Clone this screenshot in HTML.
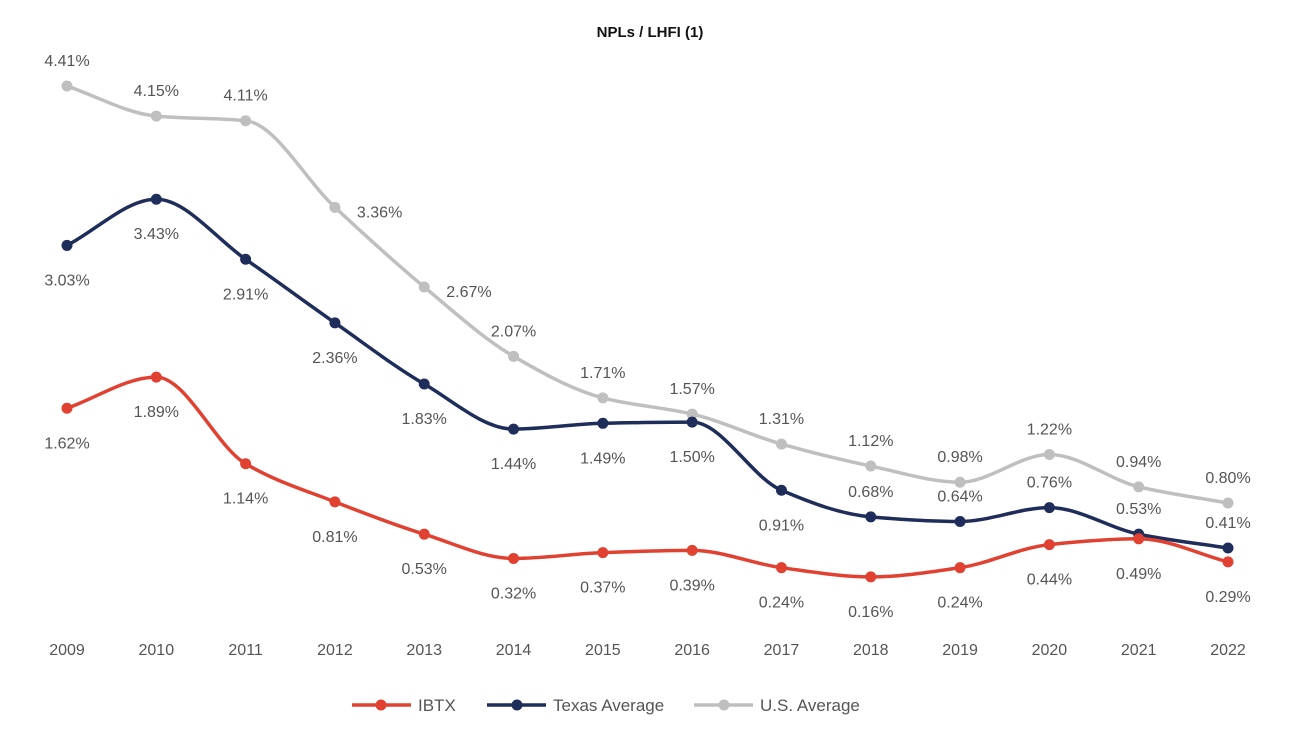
<!DOCTYPE html>
<html><head><meta charset="utf-8"><style>
body{margin:0;background:#fff;}
svg{display:block;font-family:"Liberation Sans",Arial,sans-serif;}
</style></head><body>
<svg id="chart" width="1300" height="750">
<text x="650" y="37" text-anchor="middle" font-size="15" font-weight="bold" fill="#111">NPLs / LHFI (1)</text>
<g id="xaxis"></g>
<g id="series"></g>
<g>
<g><line x1="352" y1="705" x2="411" y2="705" stroke="#E04131" stroke-width="3.5"/><circle cx="381" cy="705" r="5.5" fill="#E04131"/><text x="418" y="711" font-size="17" fill="#555">IBTX</text></g>
<g><line x1="487" y1="705" x2="546" y2="705" stroke="#1F2D5A" stroke-width="3.5"/><circle cx="517" cy="705" r="5.5" fill="#1F2D5A"/><text x="553" y="711" font-size="17" fill="#555">Texas Average</text></g>
<g><line x1="694" y1="705" x2="753" y2="705" stroke="#BFBFBF" stroke-width="3.5"/><circle cx="724" cy="705" r="5.5" fill="#BFBFBF"/><text x="760" y="711" font-size="17" fill="#555">U.S. Average</text></g>
</g>
</svg>
<script>
const years = ['2009','2010','2011','2012','2013','2014','2015','2016','2017','2018','2019','2020','2021','2022'];
const ibtx = [1.62,1.89,1.14,0.81,0.53,0.32,0.37,0.39,0.24,0.16,0.24,0.44,0.49,0.29];
const texas = [3.03,3.43,2.91,2.36,1.83,1.44,1.49,1.50,0.91,0.68,0.64,0.76,0.53,0.41];
const us = [4.41,4.15,4.11,3.36,2.67,2.07,1.71,1.57,1.31,1.12,0.98,1.22,0.94,0.80];
const usPlace = ['a','a','a','r','r','a','a','a','a','a','a','a','a','a'];
const texasPlace = ['b','b','b','b','b','b','b','b','b','a','a','a','a','a'];
const ibtxPlace = ['b','b','b','b','b','b','b','b','b','b','b','b','b','b'];

const NS='http://www.w3.org/2000/svg';
const xS = i => 67 + i*(1228-67)/13;
const yS = v => 595.4 - v*115.5;
const xg=document.getElementById('xaxis'), sg=document.getElementById('series');
function mk(tag,attrs,parent){const e=document.createElementNS(NS,tag);for(const k in attrs)e.setAttribute(k,attrs[k]);parent.appendChild(e);return e;}
years.forEach((y,i)=>{
  const t=mk('text',{x:xS(i),y:655,'text-anchor':'middle','font-size':16,fill:'#555'},xg);
  t.textContent=y;
  
  
});
function path(vals){
  const p=vals.map((v,i)=>[xS(i),yS(v)]);
  const n=p.length,h=p[1][0]-p[0][0];
  const d=[];for(let i=0;i<n-1;i++)d.push((p[i+1][1]-p[i][1])/h);
  const m=[d[0]];
  for(let i=1;i<n-1;i++){ if(d[i-1]*d[i]<=0)m.push(0); else m.push(2/(1/d[i-1]+1/d[i])); }
  m.push(d[n-2]);
  let s='M'+p[0][0]+','+p[0][1];
  for(let i=0;i<n-1;i++){
    s+=` C${p[i][0]+h/3},${p[i][1]+m[i]*h/3} ${p[i+1][0]-h/3},${p[i+1][1]-m[i+1]*h/3} ${p[i+1][0]},${p[i+1][1]}`;
  }
  return s;
}
function draw(vals,color,name,place){
  const g=mk('g',{},sg);
  
  
  const l=mk('path',{d:path(vals),fill:'none',stroke:color,'stroke-width':3.5},g);
  
  
  vals.forEach((v,i)=>{
    const c=mk('circle',{cx:xS(i),cy:yS(v),r:5.5,fill:color},g);
    
    
    const pl=place[i];
    let x=xS(i),y=yS(v)+40,a='middle';
    if(pl==='a'){y=yS(v)-20;}
    if(pl==='r'){x=xS(i)+22;y=yS(v)+10;a='start';}
    const t=mk('text',{x:x,y:y,'text-anchor':a,'font-size':16,fill:'#555'},g);
    t.textContent=v.toFixed(2)+'%';
    
    
  });
}
draw(us,'#BFBFBF','us-average',usPlace);
draw(texas,'#1F2D5A','texas-average',texasPlace);
draw(ibtx,'#E04131','ibtx',ibtxPlace);
</script>
</body></html>
